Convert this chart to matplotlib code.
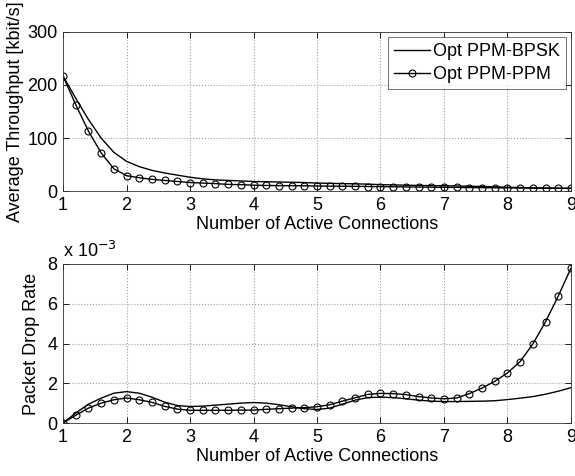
import numpy as np
import matplotlib
matplotlib.use("Agg")
import matplotlib.pyplot as plt

plt.rcParams['font.family'] = ['Liberation Sans', 'DejaVu Sans']

x = [1.0 + 0.2 * i for i in range(41)]

thr_bpsk = [217, 175, 135, 100, 73, 56, 46, 39, 34, 30, 26, 23, 21, 20, 19, 18,
            17.5, 17, 16.5, 16, 15, 14.5, 14, 13.5, 13, 12, 11.5, 11, 10.5, 10.2, 10,
            9.5, 9, 8.5, 8, 7, 6.5, 6, 5.5, 5.2, 5]
thr_ppm = [217, 163, 113, 72, 42, 29, 25, 22, 20, 18, 16, 15, 14, 12.5, 12, 11,
           10.5, 10.2, 10, 9.8, 9.5, 9.2, 9, 8.8, 8.5, 8.2, 8, 7.8, 7.5, 7.2, 7,
           6.8, 6.5, 6.3, 6.1, 6, 5.8, 5.6, 5.5, 5.3, 5.2]

pdr_bpsk = [0, 0.5, 0.95, 1.25, 1.5, 1.58, 1.5, 1.3, 1.05, 0.88, 0.83, 0.85, 0.9,
            0.95, 1.0, 1.03, 1.0, 0.92, 0.82, 0.72, 0.68, 0.75, 0.95, 1.15, 1.28, 1.3,
            1.28, 1.22, 1.15, 1.1, 1.08, 1.08, 1.09, 1.1, 1.12, 1.18, 1.25, 1.33, 1.45,
            1.6, 1.78]
pdr_ppm = [0, 0.39, 0.75, 1.0, 1.17, 1.26, 1.17, 1.04, 0.84, 0.7, 0.64, 0.64, 0.64,
           0.64, 0.65, 0.65, 0.69, 0.72, 0.75, 0.77, 0.82, 0.92, 1.1, 1.27, 1.44, 1.49,
           1.48, 1.43, 1.33, 1.26, 1.22, 1.26, 1.48, 1.76, 2.1, 2.52, 3.09, 3.98, 5.1,
           6.39, 7.79]

xticks = [1, 2, 3, 4, 5, 6, 7, 8, 9]

fig = plt.figure(figsize=(5.75, 4.76), dpi=100)
ax1 = fig.add_axes([0.1096, 0.5987, 0.8834, 0.3341])
ax2 = fig.add_axes([0.1096, 0.1113, 0.8834, 0.3341])

fs = 13
for ax in (ax1, ax2):
    ax.set_xlim(1, 9)
    ax.set_xticks(xticks)
    ax.grid(True, linestyle=':', color='#a0a0a0', linewidth=0.8)
    ax.tick_params(direction='in', top=True, right=True, length=4, labelsize=fs,
                   width=0.6, pad=4)
    for s in ax.spines.values():
        s.set_linewidth(0.6)
        s.set_color('#333333')
    ax.set_xlabel('Number of Active Connections', fontsize=fs, labelpad=2)

ax1.plot(x, thr_bpsk, color='black', linewidth=1.0, label='Opt PPM-BPSK')
ax1.plot(x, thr_ppm, color='black', linewidth=1.0, marker='o', markersize=5,
         markerfacecolor='none', markeredgewidth=0.8, label='Opt PPM-PPM')
ax1.set_ylim(0, 300)
ax1.set_yticks([0, 100, 200, 300])
ax1.set_ylabel('Average Throughput [kbit/s]', fontsize=fs, labelpad=2)
leg = ax1.legend(loc='upper right', fontsize=fs, frameon=True, fancybox=False,
                 edgecolor='#333333', borderpad=0.3, handlelength=2.0,
                 handletextpad=0.2, labelspacing=0.35, borderaxespad=0.3)
leg.get_frame().set_linewidth(0.6)

ax2.plot(x, pdr_bpsk, color='black', linewidth=1.0)
ax2.plot(x, pdr_ppm, color='black', linewidth=1.0, marker='o', markersize=5,
         markerfacecolor='none', markeredgewidth=0.8)
ax2.set_ylim(0, 8)
ax2.set_yticks([0, 2, 4, 6, 8])
ax2.set_ylabel('Packet Drop Rate', fontsize=fs, labelpad=5)
ax2.text(0.0, 1.02, 'x 10$^{-3}$', transform=ax2.transAxes, fontsize=fs,
         ha='left', va='bottom')

fig.savefig('out.png', dpi=100)
